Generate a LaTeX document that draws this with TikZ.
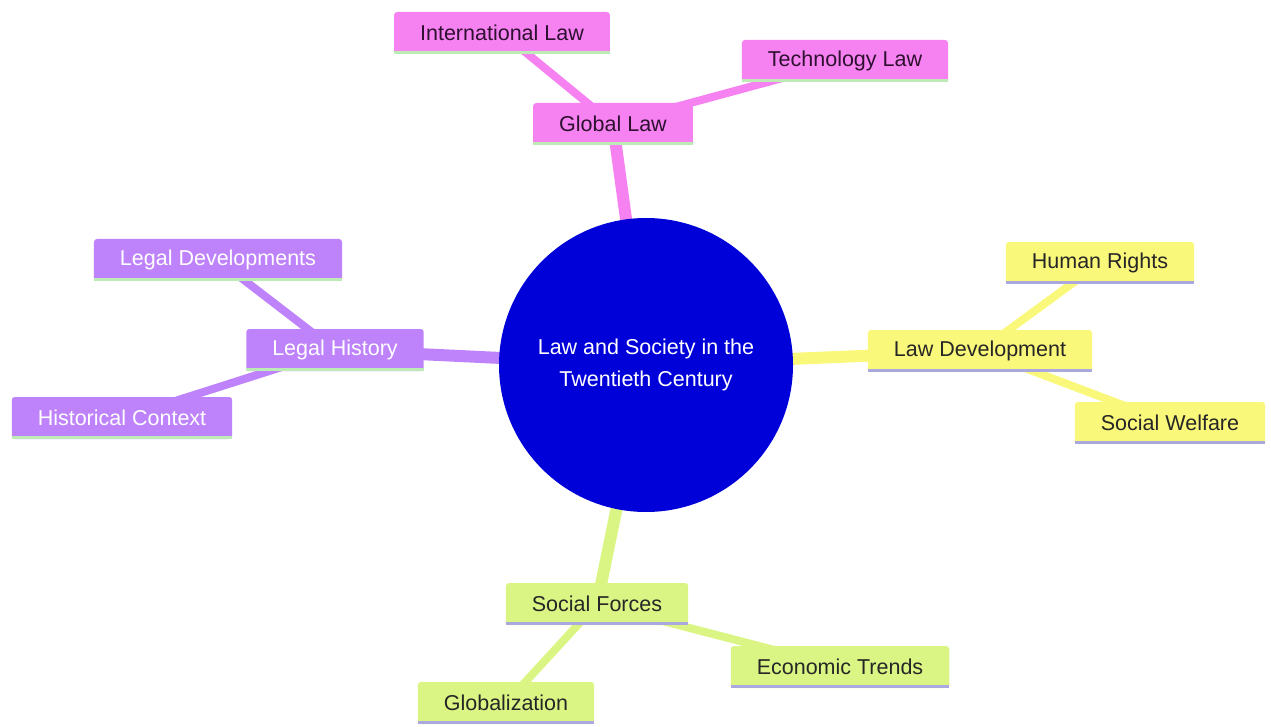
\documentclass[tikz,border=0pt]{standalone}
\usepackage{fontspec}
\setmainfont{Liberation Sans}
\usetikzlibrary{backgrounds}
\definecolor{rootblue}{HTML}{0000D8}
\definecolor{pinkfill}{HTML}{F582F0}
\definecolor{pinktext}{HTML}{2E1030}
\definecolor{purplefill}{HTML}{BE82FA}
\definecolor{yellowfill}{HTML}{FAF87A}
\definecolor{greenfill}{HTML}{DAF584}
\definecolor{mintline}{HTML}{BDEBB5}
\definecolor{lavline}{HTML}{ABA8E0}
\begin{document}
\begin{tikzpicture}[x=1pt,y=-1pt,
		box/.style={rounded corners=3pt,inner xsep=26pt,inner ysep=0pt,minimum height=42pt,font=\fontsize{21.5}{25}\selectfont},
		pinkbox/.style={box,fill=pinkfill,text=pinktext},
		purplebox/.style={box,fill=purplefill,text=white},
		yellowbox/.style={box,fill=yellowfill,text=black!85},
		greenbox/.style={box,fill=greenfill,text=black!85},
		trunk/.style={line width=12pt},
		twig/.style={line width=8pt}]
	\useasboundingbox (0,0) rectangle (1271,727);
	\node[circle,fill=rootblue,minimum size=294pt,inner sep=0pt,text=white,align=center,font=\fontsize{21.5}{32}\selectfont] (root) at (646,365) {Law and Society in the\\Twentieth Century};
	\node[pinkbox] (glob) at (613,124) {Global Law};
	\node[pinkbox] (intl) at (502,33) {International Law};
	\node[pinkbox] (tech) at (845,61) {Technology Law};
	\node[purplebox] (hist) at (335,350) {Legal History};
	\node[purplebox] (devs) at (218,260) {Legal Developments};
	\node[purplebox] (ctxt) at (122,418) {Historical Context};
	\node[yellowbox] (lawdev) at (980,351) {Law Development};
	\node[yellowbox] (rights) at (1100,263) {Human Rights};
	\node[yellowbox] (welfare) at (1170,423) {Social Welfare};
	\node[greenbox] (forces) at (597,604) {Social Forces};
	\node[greenbox] (econ) at (840,667) {Economic Trends};
	\node[greenbox] (globz) at (506,703) {Globalization};
	\foreach \n/\c in {glob/mintline,intl/mintline,tech/mintline,hist/mintline,devs/mintline,ctxt/mintline,lawdev/lavline,rights/lavline,welfare/lavline,forces/lavline,econ/lavline,globz/lavline}
		\draw[line width=3pt,\c] ([yshift=1.5pt]\n.south west) -- ([yshift=1.5pt]\n.south east);
	\begin{scope}[on background layer]
		\draw[trunk,pinkfill] (root.center) -- (glob.center);
		\draw[twig,pinkfill] (glob.center) -- (intl.center);
		\draw[twig,pinkfill] (glob.center) -- (tech.center);
		\draw[trunk,purplefill] (root.center) -- (hist.center);
		\draw[twig,purplefill] (hist.center) -- (devs.center);
		\draw[twig,purplefill] (hist.center) -- (ctxt.center);
		\draw[trunk,yellowfill] (root.center) -- (lawdev.center);
		\draw[twig,yellowfill] (lawdev.center) -- (rights.center);
		\draw[twig,yellowfill] (lawdev.center) -- (welfare.center);
		\draw[trunk,greenfill] (root.center) -- (forces.center);
		\draw[twig,greenfill] (forces.center) -- (econ.center);
		\draw[twig,greenfill] (forces.center) -- (globz.center);
	\end{scope}
\end{tikzpicture}
\end{document}
